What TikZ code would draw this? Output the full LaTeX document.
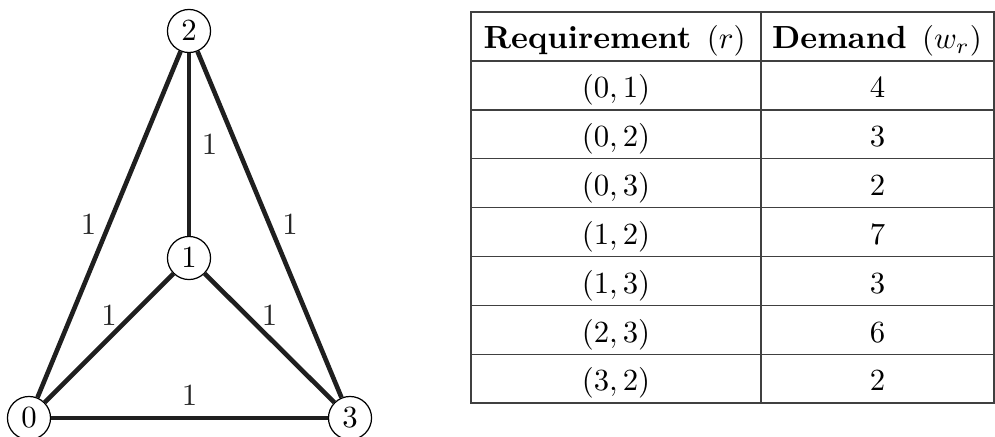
\documentclass[tikz,border=0pt]{standalone}
\begin{document}
\begin{tikzpicture}[x=0.325pt,y=-0.325pt,
  vert/.style={circle,draw,line width=0.4pt,minimum size=14pt,inner sep=0pt,fill=white},
  edgeline/.style={line width=1.5pt,black!88},
  wlab/.style={inner sep=3.4pt,text=black!85},
  rulez/.style={line width=0.42pt,black!75},
  cell/.style={anchor=base,inner sep=0pt}]
\useasboundingbox (0,0) rectangle (995,436);
% graph
\node[vert] (n2) at (189,31) {$2$};
\node[vert] (n1) at (189,258) {$1$};
\node[vert] (n0) at (29,418) {$0$};
\node[vert] (n3) at (350,418) {$3$};
\draw[edgeline] (n2) -- node[wlab,right]{$1$} (n1);
\draw[edgeline] (n0) -- node[wlab,left]{$1$} (n2);
\draw[edgeline] (n2) -- node[wlab,right]{$1$} (n3);
\draw[edgeline] (n0) -- node[wlab,above]{$1$} (n1);
\draw[edgeline] (n1) -- node[wlab,above]{$1$} (n3);
\draw[edgeline] (n0) -- node[wlab,above]{$1$} (n3);
% table
\draw[rulez] (471,12) rectangle (994,403);
\draw[rulez] (761,12) -- (761,403);
\draw[rulez] (471,61) -- (994,61);
\foreach \k in {1,...,6} {
  \draw[rulez] (471,{61+48.857*\k}) -- (994,{61+48.857*\k});
}
\node[cell,font=\fontsize{10.4}{12}\selectfont] (hreq) at (614.5,48.8) {\textbf{Requirement}\hspace{0.15em} $(r)$};
\node[cell,font=\fontsize{10.4}{12}\selectfont] (hdem) at (877,48.8) {\textbf{Demand}\hspace{0.15em} $(w_r)$};
\foreach \a/\b/\d [count=\i] in {0/1/4,0/2/3,0/3/2,1/2/7,1/3/3,2/3/6,3/2/2} {
  \node[cell] (ra\i) at (616,{61+48.857*(\i-0.5)+12.3}) {$(\a,\b)$};
  \node[cell] (rb\i) at (877.5,{61+48.857*(\i-0.5)+12.3}) {$\d$};
}
\end{tikzpicture}
\end{document}
